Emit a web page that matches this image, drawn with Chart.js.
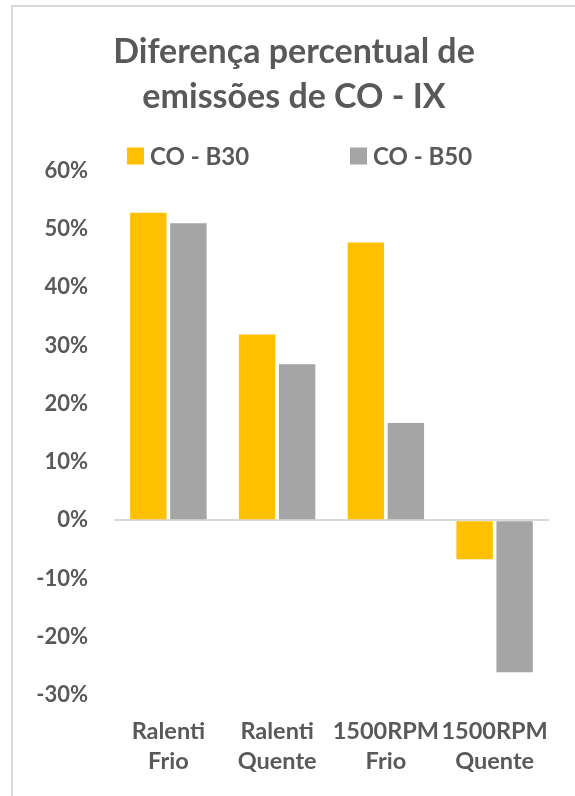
<!DOCTYPE html>
<html lang="pt">
<head>
<meta charset="utf-8">
<title>Diferença percentual de emissões de CO - IX</title>
<script src="https://cdn.jsdelivr.net/npm/chart.js@4/dist/chart.umd.min.js"></script>
<style>
  html, body { margin: 0; padding: 0; background: #ffffff; width: 575px; height: 796px; overflow: hidden; }
  #frame {
    position: absolute; left: 11px; top: 5px; width: 600px; height: 820px;
    border-left: 2px solid #d9d9d9; border-top: 2px solid #d9d9d9;
  }
  #chart { display: block; }
</style>
</head>
<body>
<div id="frame"><canvas id="chart" width="562" height="789"></canvas></div>
<script>
// Categories (two-line labels) and series
const categories = [['Ralenti', 'Frio'], ['Ralenti', 'Quente'], ['1500RPM', 'Frio'], ['1500RPM', 'Quente']];
const seriesNames = ['CO - B30', 'CO - B50'];
const coB30 = [0.528, 0.319, 0.477, -0.067];
const coB50 = [0.510, 0.268, 0.167, -0.261];

// Value axis range
const yMin = -0.3;
const yMax = 0.6;
const yStep = 0.1;

const seriesColors = ['#FFC000', '#A5A5A5'];
const textColor = '#595959';
const FONT = 'Lato';

// Legend drawn as one row of square swatches, each entry in an equal-width slot
const legendRow = {
  id: 'legendRow',
  afterDraw(chart, args, opts) {
    const ctx = chart.ctx;
    ctx.save();
    ctx.font = `bold ${opts.size}px ${FONT}`;
    ctx.textBaseline = 'middle';
    ctx.textAlign = 'left';
    chart.data.datasets.forEach((ds, i) => {
      const x = opts.left + i * opts.slot;
      ctx.fillStyle = ds.backgroundColor;
      ctx.fillRect(x, opts.y - opts.box / 2, opts.box, opts.box);
      ctx.fillStyle = opts.color;
      ctx.fillText(ds.label, x + opts.box + opts.gap, opts.y + 1);
    });
    ctx.restore();
  }
};

function draw() {
  Chart.defaults.font.family = FONT;
  Chart.defaults.color = textColor;

  new Chart(document.getElementById('chart'), {
    type: 'bar',
    data: {
      labels: categories,
      datasets: [
        { label: seriesNames[0], data: coB30, backgroundColor: seriesColors[0] },
        { label: seriesNames[1], data: coB50, backgroundColor: seriesColors[1] }
      ]
    },
    plugins: [legendRow],
    options: {
      responsive: false,
      animation: false,
      devicePixelRatio: 1,
      categoryPercentage: 0.736,
      barPercentage: 0.91,
      layout: { padding: 0 },
      plugins: {
        legend: { display: false },
        tooltip: { enabled: false },
        title: {
          display: true,
          text: ['Diferença percentual de', 'emissões de CO - IX'],
          color: textColor,
          font: { family: FONT, size: 34, weight: 'bold', lineHeight: 1.32 },
          padding: { top: 23, bottom: 51 }
        },
        legendRow: { size: 24, box: 17, gap: 6, left: 114, slot: 223, y: 149, color: textColor }
      },
      scales: {
        x: {
          afterFit(scale) { scale.height = 101; },
          grid: { display: false, drawTicks: false },
          border: { display: false },
          ticks: {
            color: textColor,
            padding: 22,
            maxRotation: 0,
            autoSkip: false,
            font: { family: FONT, size: 23.5, weight: 'bold', lineHeight: 1.25 }
          }
        },
        y: {
          min: yMin,
          max: yMax,
          afterFit(scale) { scale.width = 101; },
          border: { display: false },
          grid: {
            drawTicks: false,
            lineWidth: 2,
            color: ctx => (ctx.tick && Math.abs(ctx.tick.value) < 1e-9) ? '#d9d9d9' : 'rgba(0,0,0,0)'
          },
          ticks: {
            stepSize: yStep,
            padding: 26,
            color: textColor,
            font: { family: FONT, size: 22, weight: 'bold' },
            callback: v => Math.round(v * 100) + '%'
          }
        },
        // empty right-hand margin so the plot ends short of the frame edge
        margin: {
          position: 'right',
          axis: 'y',
          afterFit(scale) { scale.width = 26; },
          grid: { display: false },
          border: { display: false },
          ticks: { display: false }
        }
      }
    }
  });
}

if (document.fonts && document.fonts.load) {
  document.fonts.load(`bold 22px ${FONT}`).then(draw, draw);
} else {
  draw();
}
</script>
</body>
</html>
